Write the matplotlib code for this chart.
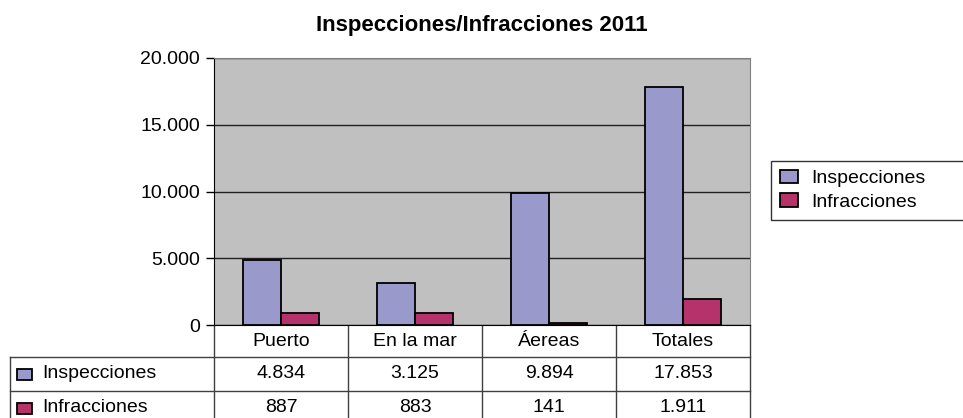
import matplotlib
matplotlib.use("Agg")
from matplotlib import pyplot as plt
from matplotlib.patches import Patch, Rectangle
from matplotlib.ticker import FuncFormatter, MultipleLocator

categorias = ["Puerto", "En la mar", "Áereas", "Totales"]
series = ["Inspecciones", "Infracciones"]
inspecciones = [4834, 3125, 9894, 17853]
infracciones = [887, 883, 141, 1911]
colores = ["#9999CC", "#B5336A"]

plt.rcParams["font.family"] = ["Liberation Sans", "DejaVu Sans"]
FS = 14

W, H = 963, 418
fig = plt.figure(figsize=(W / 100, H / 100), dpi=100)

# zona del grafico en pixeles
left, right, top, bottom = 214, 750, 58, 325
ax = fig.add_axes([left / W, 1 - bottom / H, (right - left) / W, (bottom - top) / H])
ax.set_facecolor("#C0C0C0")

w = 0.287
x = range(len(categorias))
ax.bar([i - w / 2 for i in x], inspecciones, w, color=colores[0], edgecolor="black", linewidth=1.3, zorder=3)
ax.bar([i + w / 2 for i in x], infracciones, w, color=colores[1], edgecolor="black", linewidth=1.3, zorder=3)

ax.set_xlim(-0.5, len(categorias) - 0.5)
ax.set_ylim(0, 20000)
ax.yaxis.set_major_locator(MultipleLocator(5000))
ax.yaxis.set_major_formatter(FuncFormatter(lambda v, p: f"{int(v):,}".replace(",", ".")))
ax.yaxis.grid(True, color="#202020", linewidth=1, zorder=1)
ax.set_axisbelow(True)
ax.set_xticks([])
ax.tick_params(axis="y", length=6, width=1, labelsize=FS, pad=4)
for s in ["left", "bottom"]:
    ax.spines[s].set_color("black")
for s in ["top", "right"]:
    ax.spines[s].set_color("#808080")

fig.text((left + right) / 2 / W, 1 - 26 / H, "Inspecciones/Infracciones 2011",
         ha="center", va="center", fontsize=16, fontweight="bold")

# tabla de datos debajo
ov = fig.add_axes([0, 0, 1, 1], zorder=-1)
ov.set_xlim(0, W)
ov.set_ylim(H, 0)
ov.axis("off")
ov.patch.set_alpha(0)

colw = (right - left) / len(categorias)
r1, r2, r3 = 357, 391, 430
lc = "#404040"
for i in range(len(categorias) + 1):
    xx = left + i * colw
    ov.plot([xx, xx], [bottom, H], color=lc, lw=1)
ov.plot([10, 10], [r1, H], color=lc, lw=1)
ov.plot([10, right], [r1, r1], color=lc, lw=1)
ov.plot([10, right], [r2, r2], color=lc, lw=1)

for i, c in enumerate(categorias):
    cx = left + (i + 0.5) * colw
    ov.text(cx, (bottom + r1) / 2, c, ha="center", va="center", fontsize=FS)
    ov.text(cx, (r1 + r2) / 2, f"{inspecciones[i]:,}".replace(",", "."), ha="center", va="center", fontsize=FS)
    ov.text(cx, (r2 + r3) / 2 - 3, f"{infracciones[i]:,}".replace(",", "."), ha="center", va="center", fontsize=FS)

for j, (nombre, yc) in enumerate(zip(series, [(r1 + r2) / 2, (r2 + r3) / 2 - 3])):
    ov.add_patch(Rectangle((17, yc - 5), 15, 11, facecolor=colores[j], edgecolor="black", lw=1.3))
    ov.text(42, yc, nombre, ha="left", va="center", fontsize=FS)

handles = [Patch(facecolor=colores[j], edgecolor="black", linewidth=1.3, label=series[j]) for j in range(2)]
leg = fig.legend(handles=handles, loc="upper left", mode="expand",
                 bbox_to_anchor=(771 / W, 1 - 161 / H, 200 / W, 0),
                 fontsize=FS, frameon=True, fancybox=False, handlelength=0.95, handleheight=0.7,
                 handletextpad=0.65, borderpad=0.45, labelspacing=0.3, borderaxespad=0)
leg.get_frame().set_edgecolor("black")
leg.get_frame().set_linewidth(1)

fig.savefig("out.png", dpi=100)
